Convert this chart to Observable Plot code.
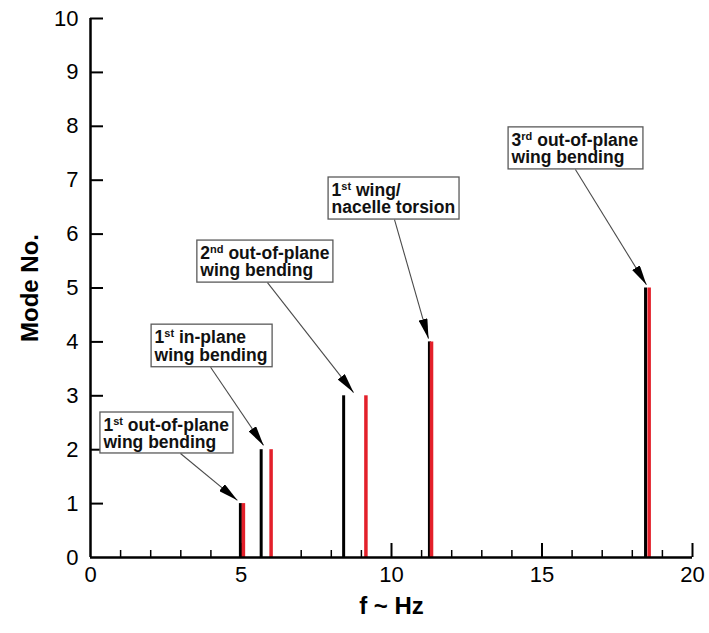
<!DOCTYPE html>
<html>
<head>
<meta charset="utf-8">
<script src="https://cdn.jsdelivr.net/npm/d3@7"></script>
<script src="https://cdn.jsdelivr.net/npm/@observablehq/plot@0.6"></script>
<style>
  html, body { margin: 0; padding: 0; background: white; }
  #chart svg { display: block; }
</style>
</head>
<body>
<div id="chart"></div>
<script>
// ---- data ----
const modes = [1, 2, 3, 4, 5];
const blackF = [4.98, 5.67, 8.41, 11.26, 18.44];   // first set of frequencies (black)
const redF   = [5.08, 6.00, 9.15, 11.33, 18.56];   // second set of frequencies (red)

const xTickLabels = [0, 5, 10, 15, 20];
const yTickLabels = [0, 1, 2, 3, 4, 5, 6, 7, 8, 9, 10];

// annotations (positions in data units)
const annotOrd   = ["1st", "1st", "2nd", "1st", "3rd"];
const annotLine1 = ["out-of-plane", "in-plane", "out-of-plane", "wing/", "out-of-plane"];
const annotLine2 = ["wing bending", "wing bending", "wing bending", "nacelle torsion", "wing bending"];
const boxX1      = [0.33, 2.03, 3.55, 7.91, 13.89];
const boxX2      = [4.75, 6.05, 8.07, 12.26, 18.37];
const boxYTop    = [2.69, 4.32, 5.88, 7.05, 7.98];
const boxYBottom = [1.93, 3.53, 5.10, 6.27, 7.20];
const arrowX1    = [2.99, 3.99, 5.88, 10.10, 16.11];
const arrowX2    = [4.88, 5.75, 8.74, 11.23, 18.47];
const arrowY2    = [1.06, 2.08, 3.06, 4.06, 5.06];

// ---- tables ----
const bars = modes.map((m, i) => ({mode: m, black: blackF[i], red: redF[i]}));
const annots = annotOrd.map((o, i) => ({
  text: o + " " + annotLine1[i] + "\n" + annotLine2[i],
  x1: boxX1[i], x2: boxX2[i], yTop: boxYTop[i], yBot: boxYBottom[i],
  ax1: arrowX1[i], ay1: boxYBottom[i], ax2: arrowX2[i], ay2: arrowY2[i]
}));
const minorX = d3.range(1, 20).filter(d => d % 5 !== 0);
const majorX = [5, 10, 15, 20];
const yTicks = d3.range(1, 11);

const RED = "#e3202a";

const svg = Plot.plot({
  width: 709,
  height: 633,
  marginLeft: 90,
  marginRight: 17,
  marginTop: 18,
  marginBottom: 76,
  x: {domain: [0, 20]},
  y: {domain: [0, 10]},
  style: {fontFamily: "'Liberation Sans', Arial, sans-serif", color: "black", background: "white"},
  marks: [
    // tick labels
    Plot.axisX(xTickLabels, {tickSize: 0, tickPadding: 9, fontSize: 22, label: null, tickFormat: d => String(d)}),
    Plot.axisY(yTickLabels, {tickSize: 0, tickPadding: 12, fontSize: 22, label: null, tickFormat: d => String(d)}),
    // inward ticks
    Plot.axisX(minorX, {tickSize: -7, tickFormat: () => "", label: null, strokeWidth: 1.5}),
    Plot.axisX(majorX, {tickSize: -14, tickFormat: () => "", label: null, strokeWidth: 2}),
    Plot.axisY(yTicks, {tickSize: -13, tickFormat: () => "", label: null, strokeWidth: 2}),
    // axis titles
    Plot.text(["f ~ Hz"], {text: d => d, frameAnchor: "bottom", textAnchor: "middle", dy: 56, fontSize: 24, fontWeight: "bold"}),
    Plot.text(["Mode No."], {text: d => d, frameAnchor: "left", textAnchor: "middle", lineAnchor: "middle", dx: -60, rotate: -90, fontSize: 24, fontWeight: "bold"}),
    // bars
    Plot.ruleX(bars, {x: "black", y1: 0, y2: "mode", stroke: "black", strokeWidth: 3}),
    Plot.ruleX(bars, {x: "red", y1: 0, y2: "mode", stroke: RED, strokeWidth: 3.5}),
    // axis lines
    Plot.ruleX([0], {strokeWidth: 2.5}),
    Plot.ruleY([0], {strokeWidth: 2.5}),
    // annotations
    Plot.rect(annots, {x1: "x1", x2: "x2", y1: "yBot", y2: "yTop", fill: "white", stroke: "#5a5a5a", strokeWidth: 1.3}),
    Plot.text(annots, {x: "x1", y: "yTop", text: "text", textAnchor: "start", lineAnchor: "top",
      dx: 3, dy: 6, fontSize: 17.5, fontWeight: "bold", lineHeight: 1, fill: "#111"}),
    Plot.link(annots, {x1: "ax1", y1: "ay1", x2: "ax2", y2: "ay2", stroke: "#4a4a4a", strokeWidth: 1.1})
  ]
});

// filled arrowheads
const ns = "http://www.w3.org/2000/svg";
const defs = d3.select(svg).insert("defs", ":first-child");
defs.append("marker")
  .attr("id", "tri-head")
  .attr("viewBox", "0 0 20 9")
  .attr("refX", 20).attr("refY", 4.5)
  .attr("markerWidth", 20).attr("markerHeight", 9)
  .attr("markerUnits", "userSpaceOnUse")
  .attr("orient", "auto")
  .append("path").attr("d", "M0,0L20,4.5L0,9Z").attr("fill", "black");
d3.select(svg).selectAll('g[aria-label="link"] path').attr("marker-end", "url(#tri-head)");

// superscript ordinals
d3.select(svg).selectAll("text").each(function() {
  const t = this.querySelector("tspan") || this;
  const m = t.textContent.match(/^(\d+)(st|nd|rd|th)( .*)$/);
  if (!m) return;
  t.textContent = "";
  const a = document.createElementNS(ns, "tspan"); a.textContent = m[1];
  const b = document.createElementNS(ns, "tspan"); b.textContent = m[2];
  b.setAttribute("dy", "-6"); b.setAttribute("font-size", "11");
  const c = document.createElementNS(ns, "tspan"); c.textContent = m[3];
  c.setAttribute("dy", "6");
  t.appendChild(a); t.appendChild(b); t.appendChild(c);
});

document.getElementById("chart").appendChild(svg);
</script>
</body>
</html>
